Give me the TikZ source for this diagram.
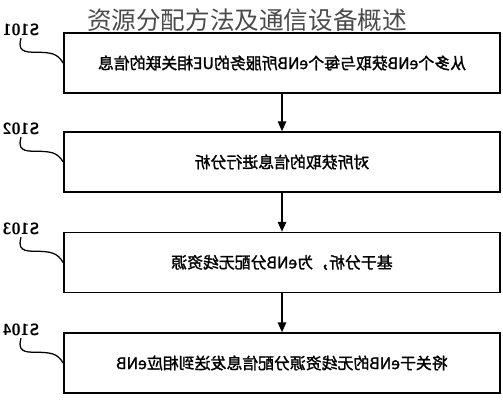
\documentclass[tikz,border=0pt]{standalone}
\usepackage{fontspec}
\usepackage{graphicx}
\usetikzlibrary{arrows.meta,positioning,calc}
\newfontfamily\cjk{Noto Sans CJK SC}
\newfontfamily\cjkbold[FakeBold=1.6]{Noto Sans CJK SC}
\definecolor{titlegray}{HTML}{4A4A4A}
\tikzset{
	stepbox/.style={draw,line width=1.1pt,fill=white,minimum width=10.9cm,minimum height=1.5cm,inner sep=0pt,anchor=center,font=\cjkbold\fontsize{11.3}{13}\selectfont},
	steplbl/.style={inner sep=0pt,anchor=center,font=\sffamily\bfseries\fontsize{11.5}{13}\selectfont},
	flow/.style={-{Triangle[length=7pt,width=6pt]},line width=1pt},
	hook/.style={line width=0.9pt},
}
\begin{document}
\begin{tikzpicture}[x=0.025cm,y=-0.025cm]
	\useasboundingbox (0,0) rectangle (503,400);
	\node (title) at (247,20) [anchor=center,inner sep=0pt,text=titlegray,font=\cjk\fontsize{17.5}{20}\selectfont] {资源分配方法及通信设备概述};
	
	\node (s1) at (282,63) [stepbox] {\reflectbox{从多个eNB获取与每个eNB所服务的UE相关联的信息}};
	\node (s2) at (282,162) [stepbox] {\reflectbox{对所获取的信息进行分析}};
	\node (s3) at (282,262.5) [stepbox] {\reflectbox{基于分析，为eNB分配无线资源}};
	\node (s4) at (282,363) [stepbox] {\reflectbox{将关于eNB的无线资源分配信息发送到相应eNB}};
	
	\node (l1) at (21,30) [steplbl] {\reflectbox{S101}};
	\node (l2) at (21,129) [steplbl] {\reflectbox{S102}};
	\node (l3) at (21,229) [steplbl] {\reflectbox{S103}};
	\node (l4) at (21,330) [steplbl] {\reflectbox{S104}};
	
	\foreach \i in {1,...,4}{
		\draw[hook] ($(l\i.south)+(0,2)$) .. controls +(-2,8) and +(-14,0) .. ($(l\i.south)+(12,16)$) .. controls +(18,0) and +(-6,-10) .. (s\i.west);
	}
	
	\draw[flow] (s1.south) -- (s2.north);
	\draw[flow] (s2.south) -- (s3.north);
	\draw[flow] (s3.south) -- (s4.north);
\end{tikzpicture}
\end{document}
